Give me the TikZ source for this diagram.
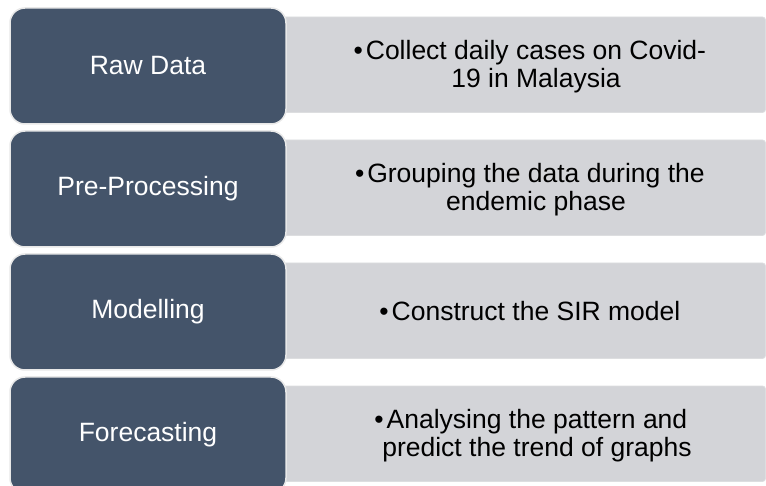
\documentclass[tikz,border=0pt]{standalone}
\usepackage{fontspec}
\setmainfont{Liberation Sans}
\definecolor{stagefill}{HTML}{44546A}
\definecolor{stageline}{HTML}{E8E8E8}
\definecolor{panelfill}{HTML}{D3D4D8}
\definecolor{panelline}{HTML}{DDDEE0}
\begin{document}
\begin{tikzpicture}[x=1pt,y=-1pt,
  stage/.style={draw=stageline, line width=1.5pt, fill=stagefill, rounded corners=15pt,
    minimum width=276pt, minimum height=116pt, inner sep=0pt,
    text=white, font=\fontsize{26.5}{28}\selectfont},
  panel/.style={draw=panelline, line width=0.8pt, fill=panelfill, rounded corners=3pt,
    minimum width=495pt, minimum height=95.5pt, inner sep=0pt},
  detail/.style={align=center, inner sep=0pt, text=black, font=\fontsize{26.5}{28}\selectfont}]
\useasboundingbox (0,0) rectangle (766,486);
\clip (0,0) rectangle (766,486);
% grey panels
\node[panel] (p1) at (518,64.75) {};
\node[panel] (p2) at (518,187.75) {};
\node[panel] (p3) at (518,310.75) {};
\node[panel] (p4) at (518,433.75) {};
% dark stage boxes
\node[stage] (s1) at (148,66) {Raw Data};
\node[stage] (s2) at (148,189) {Pre-Processing};
\node[stage] (s3) at (148,312) {Modelling};
\node[stage] (s4) at (148,435) {Forecasting};
% details
\node[detail] (t1) at (536,66.5) {\llap{•\hspace{3pt}}Collect daily cases on Covid-\\19 in Malaysia};
\node[detail] (t2) at (536,189.5) {\llap{•\hspace{3pt}}Grouping the data during the\\endemic phase};
\node[detail] (t3) at (536,311.5) {\llap{•\hspace{3pt}}Construct the SIR model};
\node[detail] (t4) at (537,435.5) {\llap{•\hspace{3pt}}Analysing the pattern and\\predict the trend of graphs};
\end{tikzpicture}
\end{document}
